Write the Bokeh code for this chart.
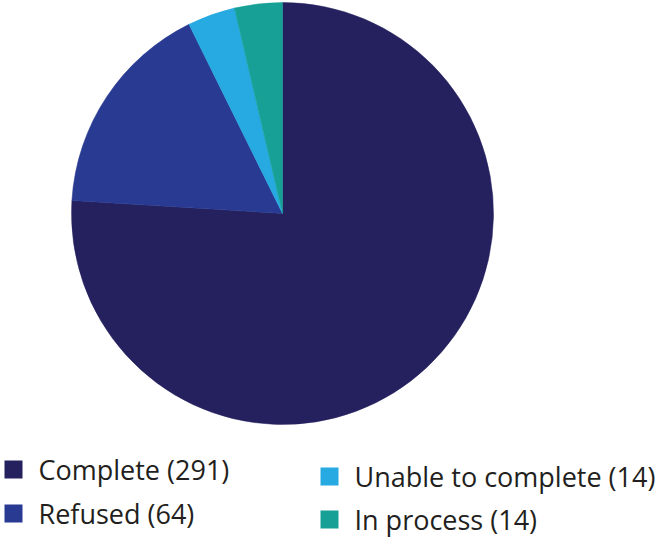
import numpy as np
from bokeh.plotting import figure
from bokeh.models import Range1d, ColumnDataSource
from bokeh.core.properties import value
from bokeh.embed import file_html
from bokeh.resources import INLINE

categories = ["Complete", "Refused", "Unable to complete", "In process"]
counts = [291, 64, 14, 14]
colors = ["#25215f", "#283a91", "#27a9e1", "#16a096"]

W, H = 659, 537
cx, cy, r = 282, H - 213, 211

frac = np.array(counts, dtype=float) / sum(counts)
cum_end = np.cumsum(frac)
cum_start = cum_end - frac
start = np.pi / 2 - cum_start * 2 * np.pi
end = np.pi / 2 - cum_end * 2 * np.pi

p = figure(width=W, height=H, x_range=Range1d(0, W), y_range=Range1d(0, H),
           output_backend="svg", toolbar_location=None, min_border=0)
p.axis.visible = False
p.grid.visible = False
p.outline_line_color = None
p.background_fill_color = "white"

src = ColumnDataSource(dict(start=start, end=end, color=colors))
p.wedge(x=cx, y=cy, radius=r, start_angle="start", end_angle="end",
        direction="clock", fill_color="color", line_color="color", line_width=0.5, source=src)

# legend layout: two columns, right column offset slightly lower
labels = [f"{c} ({n})" for c, n in zip(categories, counts)]
col_x = [13, 329]
row_y = [[469, 513], [476, 519]]
lx, ly = [], []
for i in range(len(labels)):
    col = i // 2
    row = i % 2
    lx.append(col_x[col])
    ly.append(H - row_y[col][row])
lsrc = ColumnDataSource(dict(x=lx, y=ly, tx=[v + 25 for v in lx], label=labels, color=colors))
p.rect(x="x", y="y", width=18, height=18, fill_color="color", line_color=None, source=lsrc)
p.text(x="tx", y="y", text="label", text_font=value("Open Sans"), text_font_size="27px",
       text_baseline="middle", text_align="left", text_color="#231f20", source=lsrc)

open("out.html", "w").write(file_html(p, INLINE))
